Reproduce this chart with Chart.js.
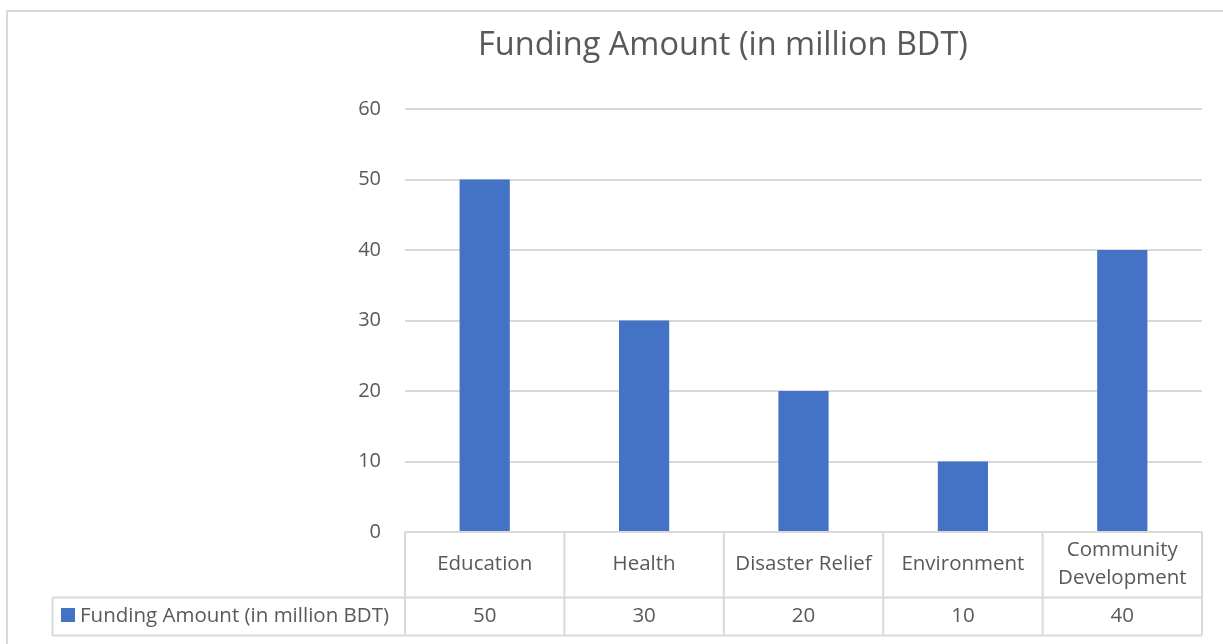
<!DOCTYPE html>
<html>
<head>
<meta charset="utf-8">
<script src="https://cdn.jsdelivr.net/npm/chart.js@4/dist/chart.umd.min.js"></script>
<style>
  html, body { margin: 0; padding: 0; background: #fff; }
  #wrap { width: 1223px; height: 644px; }
</style>
</head>
<body>
<div id="wrap"><canvas id="myChart" width="1223" height="644"></canvas></div>
<script>
const categories = ['Education', 'Health', 'Disaster Relief', 'Environment', ['Community', 'Development']];
const seriesName = 'Funding Amount (in million BDT)';
const chartTitle = 'Funding Amount (in million BDT)';
const funding = [50, 30, 20, 10, 40];
const yTicks = [0, 10, 20, 30, 40, 50, 60];

const fontFam = '"Open Sans", "Liberation Sans", sans-serif';
const txtColor = '#595959';
const lineColor = '#d9d9d9';
const barColor = '#4472C4';

// table under the plot (data table like excel)
const dataTable = {
  id: 'dataTable',
  afterDraw(chart) {
    const ctx = chart.ctx;
    const x = chart.scales.x;
    const top = chart.chartArea.bottom;
    const mid = 597.5, bot = 635.5, legLeft = 52.5;
    const w = (x.right - x.left) / categories.length;
    ctx.save();
    ctx.strokeStyle = lineColor;
    ctx.lineWidth = 2;
    ctx.beginPath();
    ctx.moveTo(x.left, top); ctx.lineTo(x.right, top);
    ctx.moveTo(legLeft, mid); ctx.lineTo(x.right, mid);
    ctx.moveTo(legLeft, bot); ctx.lineTo(x.right, bot);
    ctx.moveTo(legLeft, mid); ctx.lineTo(legLeft, bot);
    for (let i = 0; i <= categories.length; i++) {
      const bx = x.left + i * w;
      ctx.moveTo(bx, top); ctx.lineTo(bx, bot);
    }
    ctx.stroke();

    ctx.fillStyle = txtColor;
    ctx.font = '20.5px ' + fontFam;
    ctx.textAlign = 'center';
    ctx.textBaseline = 'middle';
    for (let i = 0; i < categories.length; i++) {
      const cx = x.getPixelForValue(i);
      const lab = categories[i];
      if (Array.isArray(lab)) {
        ctx.fillText(lab[0], cx, 550);
        ctx.fillText(lab[1], cx, 578);
      } else {
        ctx.fillText(lab, cx, 564);
      }
      ctx.fillText(String(funding[i]), cx, 616);
    }
    // legend key
    ctx.fillStyle = barColor;
    ctx.fillRect(61, 608, 14, 14);
    ctx.fillStyle = txtColor;
    ctx.textAlign = 'left';
    ctx.fillText(seriesName, 80, 616);
    ctx.restore();
  }
};

// outer chart border + title (title sits off-centre like the excel original)
const frame = {
  id: 'frame',
  beforeDraw(chart) {
    const ctx = chart.ctx;
    ctx.save();
    ctx.fillStyle = '#fff';
    ctx.fillRect(0, 0, chart.width, chart.height);
    ctx.strokeStyle = lineColor;
    ctx.lineWidth = 2;
    ctx.strokeRect(7, 11, chart.width + 20, chart.height + 20);
    ctx.fillStyle = txtColor;
    ctx.font = '32.5px ' + fontFam;
    ctx.textAlign = 'center';
    ctx.textBaseline = 'middle';
    ctx.fillText(chartTitle, 723, 46);
    ctx.restore();
  }
};

new Chart('myChart', {
  type: 'bar',
  data: {
    labels: categories,
    datasets: [{
      label: seriesName,
      data: funding,
      backgroundColor: barColor,
      barPercentage: 1,
      categoryPercentage: 0.315
    }]
  },
  options: {
    responsive: false,
    animation: false,
    layout: { padding: { left: 0, right: 21, top: 109, bottom: 8 } },
    plugins: {
      legend: { display: false },
      tooltip: { enabled: false },
      title: { display: false }
    },
    scales: {
      x: {
        grid: { display: false },
        border: { display: false },
        ticks: { display: false },
        afterFit(s) { s.height = 104; }
      },
      y: {
        min: 0,
        max: 60,
        afterBuildTicks(s) { s.ticks = yTicks.map(v => ({ value: v })); },
        grid: { color: lineColor, lineWidth: 2, drawTicks: false },
        border: { display: false },
        ticks: { color: txtColor, padding: 24, font: { size: 20, family: fontFam } },
        afterFit(s) { s.width = 405; }
      }
    }
  },
  plugins: [frame, dataTable]
});
</script>
</body>
</html>
